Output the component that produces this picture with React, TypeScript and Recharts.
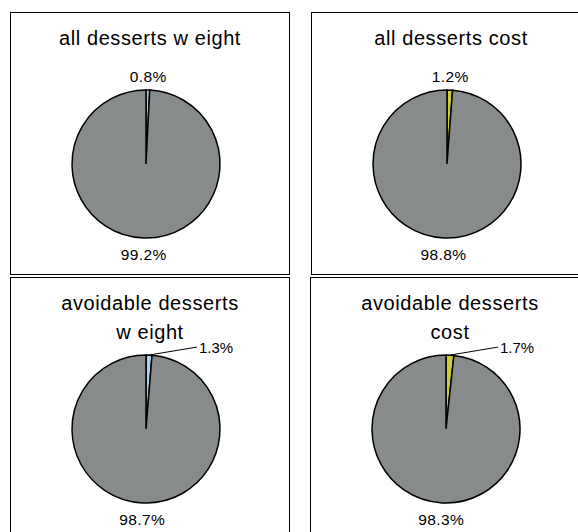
import React from "react";
import { PieChart, Pie, Cell } from "recharts";

const sliceNames = ["desserts", "other"];
const allWeight = [0.8, 99.2];
const allCost = [1.2, 98.8];
const avoidableWeight = [1.3, 98.7];
const avoidableCost = [1.7, 98.3];

const titles = [
  ["all desserts w eight"],
  ["all desserts cost"],
  ["avoidable desserts", "w eight"],
  ["avoidable desserts", "cost"],
];

const RADIAN = Math.PI / 180;
const GREY = "#878B8C";
const BLUE = "#A9D0EC";
const YELLOW = "#CCCC33";

const PANEL_W = 280;
const PANEL_H = 263;

function toRows(values: number[]) {
  return values.map((v, i) => ({ name: sliceNames[i], value: v }));
}

const fmt = (v: number) => `${v.toFixed(1)}%`;

function makeLabel(leader: boolean) {
  return (props: any) => {
    const { cx, cy, midAngle, outerRadius, value, index } = props;
    const cos = Math.cos(-midAngle * RADIAN);
    const sin = Math.sin(-midAngle * RADIAN);
    if (leader && index === 0) {
      const sx = cx + outerRadius * cos;
      const sy = cy + outerRadius * sin;
      const ex = sx + 48;
      const ey = sy - 8;
      return (
        <g>
          <line x1={sx} y1={sy} x2={ex} y2={ey} stroke="#000" strokeWidth={1} />
          <text
            x={ex + 2}
            y={ey}
            textAnchor="start"
            dominantBaseline="central"
            fontSize={15}
            fill="#000"
          >
            {fmt(value)}
          </text>
        </g>
      );
    }
    const r = outerRadius + (sin < 0 ? 14 : 17);
    return (
      <text
        x={cx + r * cos}
        y={cy + r * sin}
        textAnchor="middle"
        dominantBaseline="central"
        fontSize={15.5}
        letterSpacing={0.4}
        fill="#000"
      >
        {fmt(value)}
      </text>
    );
  };
}

function Panel({
  left,
  top,
  values,
  color,
  title,
  leader,
}: {
  left: number;
  top: number;
  values: number[];
  color: string;
  title: string[];
  leader: boolean;
}) {
  return (
    <>
      <div
        style={{
          position: "absolute",
          left,
          top,
          width: PANEL_W,
          height: PANEL_H,
          border: "1.5px solid #000",
          boxSizing: "border-box",
        }}
      />
      <div style={{ position: "absolute", left, top, width: PANEL_W, height: PANEL_H }}>
        <div
          style={{
            position: "absolute",
            left: 0,
            top: 11.5,
            width: PANEL_W,
            textAlign: "center",
            fontSize: 20,
            letterSpacing: 0.6,
            lineHeight: "29px",
          }}
        >
          {title.map((t) => (
            <div key={t}>{t}</div>
          ))}
        </div>
        <PieChart width={PANEL_W} height={PANEL_H} margin={{ top: 0, right: 0, bottom: 0, left: 0 }}>
          <Pie
            data={toRows(values)}
            dataKey="value"
            nameKey="name"
            cx={136}
            cy={152}
            outerRadius={74}
            startAngle={90}
            endAngle={-270}
            stroke="#000"
            strokeWidth={1.5}
            label={makeLabel(leader)}
            labelLine={false}
            isAnimationActive={false}
          >
            <Cell fill={color} />
            <Cell fill={GREY} />
          </Pie>
        </PieChart>
      </div>
    </>
  );
}

export default function App() {
  return (
    <div
      style={{
        position: "absolute",
        left: 0,
        top: 0,
        width: 578,
        height: 532,
        overflow: "hidden",
        background: "#fff",
        fontFamily: "'Liberation Sans', Arial, sans-serif",
      }}
    >
      <Panel left={10} top={12} values={allWeight} color={BLUE} title={titles[0]} leader={false} />
      <Panel left={311} top={12} values={allCost} color={YELLOW} title={titles[1]} leader={false} />
      <Panel left={10} top={277} values={avoidableWeight} color={BLUE} title={titles[2]} leader />
      <Panel left={310} top={277} values={avoidableCost} color={YELLOW} title={titles[3]} leader />
    </div>
  );
}
